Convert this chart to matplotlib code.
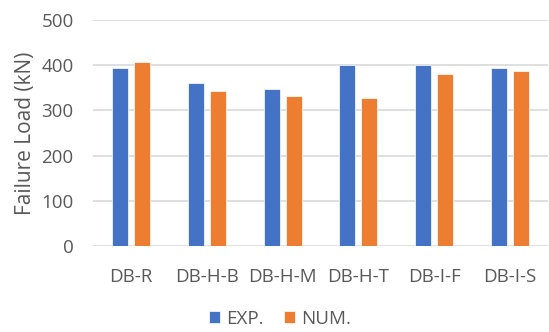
import matplotlib
matplotlib.use("Agg")
import matplotlib.pyplot as plt
import numpy as np

categories = ["DB-R", "DB-H-B", "DB-H-M", "DB-H-T", "DB-I-F", "DB-I-S"]
exp_values = [394, 360, 348, 400, 400, 394]
num_values = [406, 342, 332, 328, 381, 388]
y_ticks = [0, 100, 200, 300, 400, 500]

blue = "#4472C4"
orange = "#ED7D31"
text_color = "#595959"
grid_color = "#D9D9D9"

plt.rcParams['font.family'] = ['Open Sans', 'DejaVu Sans']

fig = plt.figure(figsize=(5.49, 3.32), dpi=100)
ax = fig.add_axes([93 / 549, (332 - 246) / 332, (548 - 93) / 549, (246 - 20) / 332])

x = np.arange(len(categories))
w = 0.21
gap = 0.08
ax.bar(x - (w + gap) / 2, exp_values, w, color=blue, edgecolor="white", linewidth=0.5, label="EXP.", zorder=3)
ax.bar(x + (w + gap) / 2, num_values, w, color=orange, edgecolor="white", linewidth=0.5, label="NUM.", zorder=3)

ax.set_xlim(-0.5, len(categories) - 0.5)
ax.set_ylim(0, 500)
ax.set_yticks(y_ticks)
ax.set_xticks(x)
ax.set_xticklabels(categories)
ax.tick_params(axis="both", length=0, labelsize=13.5, colors=text_color)
ax.tick_params(axis="x", pad=16)
ax.tick_params(axis="y", pad=14)
ax.yaxis.grid(True, color=grid_color, linewidth=1.2, zorder=0)
for s in ax.spines.values():
    s.set_visible(False)

ax.set_ylabel("Failure Load (kN)", fontsize=15, color=text_color, labelpad=4)

fig.legend(loc="center", bbox_to_anchor=(280 / 549, 1 - 319 / 332), ncol=2, frameon=False,
           fontsize=13.5, labelcolor=text_color, handlelength=0.6, handleheight=0.6,
           handletextpad=0.3, columnspacing=1.1)

fig.savefig("out.png", dpi=100, facecolor="white")
